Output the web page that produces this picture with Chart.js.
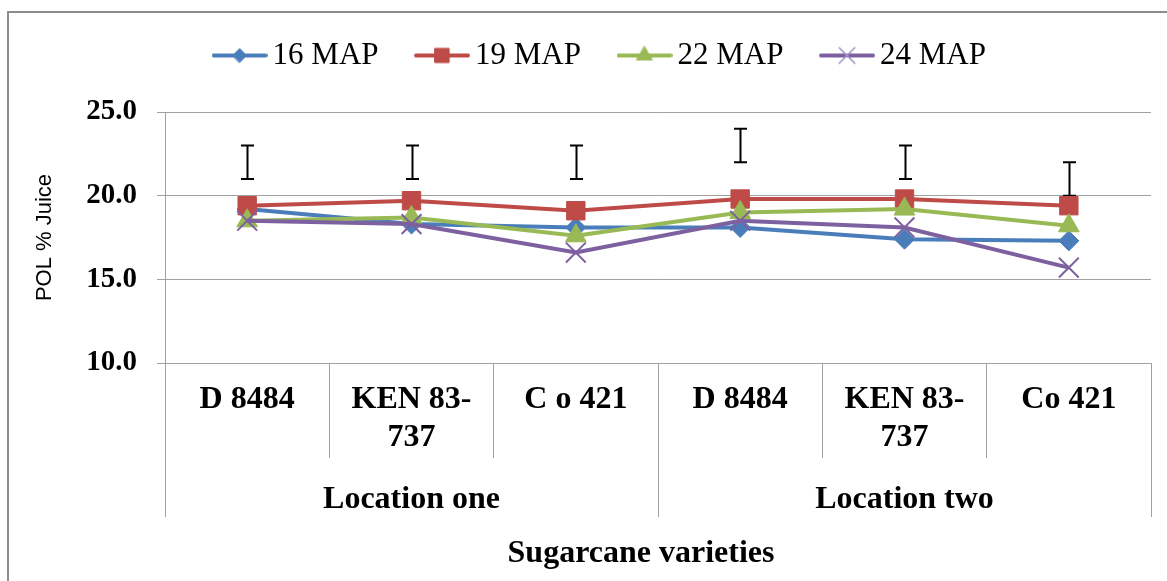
<!DOCTYPE html>
<html>
<head>
<meta charset="utf-8">
<script src="https://cdn.jsdelivr.net/npm/chart.js@4"></script>
<style>
  html, body { margin: 0; padding: 0; background: #fff; }
  #wrap { width: 1167px; height: 581px; }
</style>
</head>
<body>
<div id="wrap"><canvas id="chart" width="1167" height="581"></canvas></div>
<script>
const varieties = ['D 8484', ['KEN 83-', '737'], 'C o 421', 'D 8484', ['KEN 83-', '737'], 'Co 421']
const locations = ['Location one', 'Location two']
const locationSpan = [3, 3]

const map16 = [19.2, 18.3, 18.1, 18.1, 17.4, 17.3]
const map19 = [19.4, 19.7, 19.1, 19.8, 19.8, 19.4]
const map22 = [18.5, 18.7, 17.6, 19.0, 19.2, 18.2]
const map24 = [18.5, 18.3, 16.6, 18.5, 18.1, 15.7]

// error bars drawn above the lines
const errLow = [21, 21, 21, 22, 21, 20]
const errHigh = [23, 23, 23, 24, 23, 22]

const yTicks = [10, 15, 20, 25]

const serif = "'Liberation Serif', 'Times New Roman', serif"
const gridColor = '#a0a0a0'

function legendIcon(color, style, radius) {
    const c = document.createElement('canvas')
    c.width = 56
    c.height = 28
    const ctx = c.getContext('2d')
    ctx.strokeStyle = color
    ctx.lineWidth = 4
    ctx.lineCap = 'round'
    ctx.beginPath()
    ctx.moveTo(2, 14)
    ctx.lineTo(54, 14)
    ctx.stroke()
    ctx.fillStyle = color
    ctx.lineWidth = style === 'crossRot' ? 1.5 : 1
    if (style === 'crossRot') ctx.strokeStyle = '#a48fc4'
    Chart.helpers.drawPoint(ctx, { pointStyle: style, radius, rotation: 0, borderWidth: 1 }, 28, 14)
    return c
}

const series = [
    { label: '16 MAP', data: map16, color: '#4a7ebb', style: 'rectRot', radius: 10, order: 3 },
    { label: '19 MAP', data: map19, color: '#be4b48', style: 'rect', radius: 13, order: 2 },
    { label: '22 MAP', data: map22, color: '#98b954', style: 'triangle', radius: 12, order: 1 },
    { label: '24 MAP', data: map24, color: '#7d60a0', style: 'crossRot', radius: 14, order: 0 },
]

const frame = {
    id: 'frame',
    beforeDraw(chart) {
        const { ctx } = chart
        ctx.save()
        ctx.fillStyle = '#fff'
        ctx.fillRect(0, 0, chart.width, chart.height)
        ctx.strokeStyle = '#8c8c8c'
        ctx.lineWidth = 2
        ctx.strokeRect(8, 12, chart.width + 20, chart.height + 20)
        ctx.restore()
    },
}

// extra room between the legend and the plot
const legendSpace = {
    id: 'legendSpace',
    beforeInit(chart) {
        const fit = chart.legend.fit
        chart.legend.fit = function () {
            fit.call(this)
            this.height += 31
        }
    },
}

const errorBars = {
    id: 'errorBars',
    beforeDatasetsDraw(chart) {
        const { ctx, scales: { x, y } } = chart
        ctx.save()
        ctx.strokeStyle = '#000'
        ctx.lineWidth = 2
        errLow.forEach((lo, i) => {
            const px = Math.round(x.getPixelForValue(i)) + 0.5
            const y0 = y.getPixelForValue(lo)
            const y1 = y.getPixelForValue(errHigh[i])
            ctx.beginPath()
            ctx.moveTo(px, y0)
            ctx.lineTo(px, y1)
            ctx.moveTo(px - 6.5, y0)
            ctx.lineTo(px + 6.5, y0)
            ctx.moveTo(px - 6.5, y1)
            ctx.lineTo(px + 6.5, y1)
            ctx.stroke()
        })
        ctx.restore()
    },
}

const groupAxis = {
    id: 'groupAxis',
    afterDraw(chart) {
        const { ctx, scales: { x } } = chart
        const half = (x.getPixelForValue(1) - x.getPixelForValue(0)) / 2
        const top = chart.chartArea.bottom
        ctx.save()
        ctx.strokeStyle = gridColor
        ctx.lineWidth = 1
        ctx.fillStyle = '#000'
        ctx.font = 'bold 32px ' + serif
        ctx.textAlign = 'center'
        ctx.textBaseline = 'middle'
        let start = 0
        const edges = [start]
        locations.forEach((name, g) => {
            const end = start + locationSpan[g]
            const left = x.getPixelForValue(start) - half
            const right = x.getPixelForValue(end - 1) + half
            ctx.fillText(name, (left + right) / 2, top + 137)
            edges.push(end)
            start = end
        })
        edges.forEach(e => {
            const px = Math.round(x.getPixelForValue(e) - half) + 0.5
            ctx.beginPath()
            ctx.moveTo(px, top)
            ctx.lineTo(px, top + 154)
            ctx.stroke()
        })
        ctx.fillText('Sugarcane varieties', 641, top + 191)
        ctx.restore()
    },
}

new Chart(document.getElementById('chart'), {
    type: 'line',
    data: {
        labels: varieties,
        datasets: series.map(s => ({
            label: s.label,
            data: s.data,
            borderColor: s.color,
            backgroundColor: s.color,
            borderWidth: 4,
            pointStyle: s.style,
            pointRadius: s.radius,
            pointHoverRadius: s.radius,
            pointBorderWidth: s.style === 'crossRot' ? 2 : 1,
            tension: 0,
            order: s.order,
        })),
    },
    options: {
        responsive: false,
        animation: { duration: 0 },
        layout: {
            padding: { top: -6, left: 56, right: 15, bottom: 0 },
        },
        plugins: {
            tooltip: { enabled: false },
            legend: {
                position: 'top',
                labels: {
                    color: '#000',
                    font: { family: serif, size: 31 },
                    usePointStyle: true,
                    pointStyleWidth: 35,
                    padding: 46,
                    generateLabels: () => series.map(s => ({
                        text: s.label,
                        fillStyle: s.color,
                        strokeStyle: s.color,
                        lineWidth: 0,
                        pointStyle: legendIcon(s.color, s.style, s.style === 'crossRot' ? 11 : s.radius - 3),
                        fontColor: '#000',
                    })),
                },
            },
        },
        scales: {
            x: {
                offset: true,
                afterFit: scale => { scale.height = 218 },
                grid: {
                    offset: true,
                    drawOnChartArea: false,
                    color: gridColor,
                    tickLength: 95,
                },
                border: { color: gridColor },
                ticks: {
                    color: '#000',
                    padding: -77,
                    maxRotation: 0,
                    autoSkip: false,
                    font: { family: serif, size: 32, weight: 'bold', lineHeight: 1.18 },
                },
            },
            y: {
                min: 10,
                max: 25,
                afterFit: scale => { scale.width = 109 },
                afterBuildTicks: scale => { scale.ticks = yTicks.map(v => ({ value: v })) },
                grid: { color: gridColor, tickLength: 8 },
                border: { color: gridColor },
                ticks: {
                    color: '#000',
                    padding: 20,
                    font: { family: serif, size: 29, weight: 'bold' },
                    callback: v => v.toFixed(1),
                },
                title: {
                    display: true,
                    text: 'POL % Juice',
                    color: '#000',
                    font: { family: "'Liberation Sans', Arial, sans-serif", size: 22 },
                    padding: { top: -24, bottom: 0 },
                },
            },
        },
    },
    plugins: [frame, legendSpace, errorBars, groupAxis],
})
</script>
</body>
</html>
